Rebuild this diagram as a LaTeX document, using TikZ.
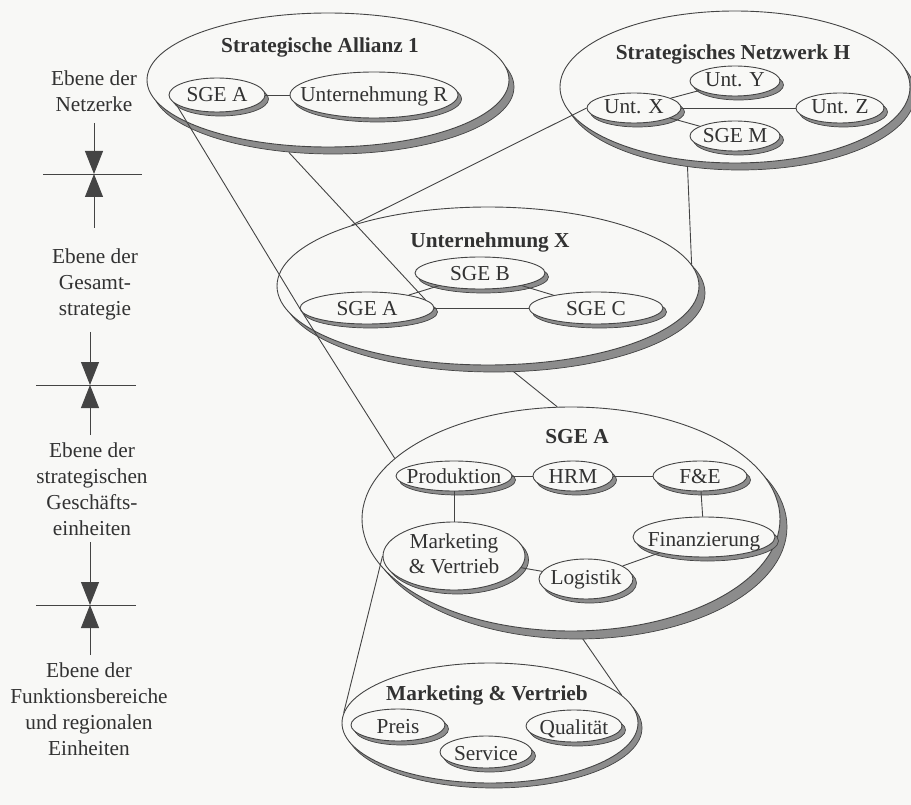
\documentclass[tikz,border=0pt]{standalone}
\usepackage{fontspec}
\setmainfont{Liberation Serif}
\usetikzlibrary{shapes.geometric,shadows,arrows.meta}

\definecolor{paper}{RGB}{248,248,246}
\definecolor{ink}{RGB}{50,50,50}
\definecolor{edge}{RGB}{68,68,68}
\definecolor{shadowgrey}{RGB}{140,140,140}

\pgfdeclarelayer{paperlayer}
\pgfdeclarelayer{behind}
\pgfsetlayers{paperlayer,behind,main}

\tikzset{
  oval/.style={ellipse, draw=edge, fill=paper, line width=0.9pt, inner sep=0pt},
  sh/.style 2 args={drop shadow={shadow xshift=#1pt, shadow yshift=-#2pt,
      fill=shadowgrey, draw=edge, line width=0.7pt, opacity=1}},
  lbl/.style={font=\fontsize{21.3}{26}\selectfont, text=ink, inner sep=0pt},
  ttl/.style={lbl, font=\fontsize{21.3}{26}\selectfont\bfseries},
  link/.style={draw=edge, line width=0.9pt},
  side/.style={lbl, align=center, anchor=north},
  lvl/.style={draw=edge, line width=0.9pt, -{Triangle[width=18pt,length=23pt]}}
}

% small element: name, x, y, rx, ry, text, baseline offset
\newcommand\elem[7]{%
  \node[oval, sh={3.5}{4}, minimum width={2*#4}, minimum height={2*#5}] (#1) at (#2,#3) {};
  \node[lbl, anchor=base] (#1-t) at (#2,{#3+#7}) {#6};}

% container: name, x, y, rx, ry, shadow dx, shadow dy
\newcommand\group[7]{%
  \node[oval, sh={#6}{#7}, minimum width={2*#4}, minimum height={2*#5}] (#1) at (#2,#3) {};}

% level marker: name, x, y, top, bottom, left, right
\newcommand\levelmark[7]{%
  \coordinate (#1) at (#2,#3);
  \coordinate (#1-u) at (#2,#4);
  \coordinate (#1-d) at (#2,#5);
  \coordinate (#1-l) at (#6,#3);
  \coordinate (#1-r) at (#7,#3);
  \draw[link] (#1-l) -- (#1-r);
  \draw[lvl] (#1-u) -- (#1);
  \draw[lvl] (#1-d) -- (#1);}

\begin{document}
\begin{tikzpicture}[x=1pt, y=-1pt]
\begin{pgfonlayer}{paperlayer}
  \fill[paper] (0,0) rectangle (911,805);
\end{pgfonlayer}
\useasboundingbox (0,0) rectangle (911,805);

% ---------- levels on the left ----------
\node[side] (lv1) at (94,71) {Ebene der\\Netzerke};
\levelmark{m1}{94}{174}{123}{228}{43}{142}
\node[side] (lv2) at (95,249) {Ebene der\\Gesamt-\\strategie};
\levelmark{m2}{90}{385}{332}{435}{36}{136}
\node[side] (lv3) at (92,443) {Ebene der\\strategischen\\Geschäfts-\\einheiten};
\levelmark{m3}{90}{605}{542}{655}{36}{136}
\node[side] (lv4) at (89,663) {Ebene der\\Funktionsbereiche\\und regionalen\\Einheiten};

% ---------- Strategische Allianz 1 ----------
\group{allianz}{328}{80}{181}{67}{5}{7}
\node[ttl, anchor=base] (allianz-t) at (320,53) {Strategische Allianz 1};
\elem{sgeA1}{217}{95}{48}{17}{SGE A}{7}
\elem{untR}{374}{95}{84}{23}{Unternehmung R}{7}
\draw[link] (sgeA1) -- (untR);

% ---------- Strategisches Netzwerk H ----------
\group{netz}{735}{87}{175}{76}{5}{7}
\node[ttl, anchor=base] (netz-t) at (733,60) {Strategisches Netzwerk H};
\elem{untX}{634}{108}{47}{15}{Unt. X}{6}
\elem{untY}{735}{81}{45}{15}{Unt. Y}{6}
\elem{untZ}{840}{108}{44}{15}{Unt. Z}{6}
\elem{sgeM}{735}{136}{45}{15}{SGE M}{7}
\draw[link] (untX) -- (untY);
\draw[link] (untX) -- (untZ);
\draw[link] (untX) -- (sgeM);

% ---------- Unternehmung X ----------
\group{unX}{488}{286}{211}{79}{6}{7}
\node[ttl, anchor=base] (unX-t) at (490,248) {Unternehmung X};
\elem{sgeB}{480}{273}{65}{16}{SGE B}{7}
\elem{sgeAX}{367}{308}{67}{16}{SGE A}{8}
\elem{sgeC}{596}{308}{67}{16}{SGE C}{8}
\draw[link] (sgeAX) -- (sgeB);
\draw[link] (sgeB) -- (sgeC);
\draw[link] (sgeAX) -- (sgeC);

% ---------- SGE A ----------
\group{sgeBig}{571}{519}{209}{112}{7}{8}
\node[ttl, anchor=base] (sgeBig-t) at (577,443) {SGE A};
\elem{prod}{454}{476}{58}{15}{Produktion}{7}
\elem{hrm}{573}{476}{40}{15}{HRM}{7}
\elem{fe}{700}{476}{47}{15}{F\&E}{7}
\node[oval, sh={3.5}{4}, minimum width=142, minimum height=68] (mktA) at (454,556) {};
\node[lbl, anchor=base] (mktA-t1) at (454,548) {Marketing};
\node[lbl, anchor=base] (mktA-t2) at (454,573) {\& Vertrieb};
\elem{log}{586}{579}{47}{20}{Logistik}{5}
\elem{fin}{704}{537}{71}{20}{Finanzierung}{9}
\draw[link] (prod) -- (hrm);
\draw[link] (hrm) -- (fe);
\draw[link] (prod) -- (mktA);
\draw[link] (fe) -- (fin);
\draw[link] (mktA) -- (log);
\draw[link] (log) -- (fin);

% ---------- Marketing & Vertrieb ----------
\group{mkt}{490}{723}{148}{60}{4}{5}
\node[ttl, anchor=base] (mkt-t) at (487,700) {Marketing \& Vertrieb};
\elem{preis}{398}{725}{47}{16}{Preis}{8}
\elem{serv}{486}{752}{46}{16}{Service}{8}
\elem{qual}{574}{726}{48}{16}{Qualität}{8}

% ---------- projection lines ----------
% lines running behind the ellipses
\begin{pgfonlayer}{behind}
  \draw[link] (sgeAX.east) -- (sgeBig.97.6);
  \draw[link] (netz.237.7) -- (unX.6);
  \draw[link] (mktA.east) -- (mkt.12);
\end{pgfonlayer}
% lines running in front
\draw[link] (sgeA1.193) -- (sgeAX.west) -- (sgeBig.161);
\draw[link] ([xshift=5pt,yshift=-7pt]allianz.236) -- (sgeAX.8);
\draw[link] (untX.west) -- (unX.156.4);
\draw[link] (mktA.west) -- (mkt.176);
\end{tikzpicture}
\end{document}
